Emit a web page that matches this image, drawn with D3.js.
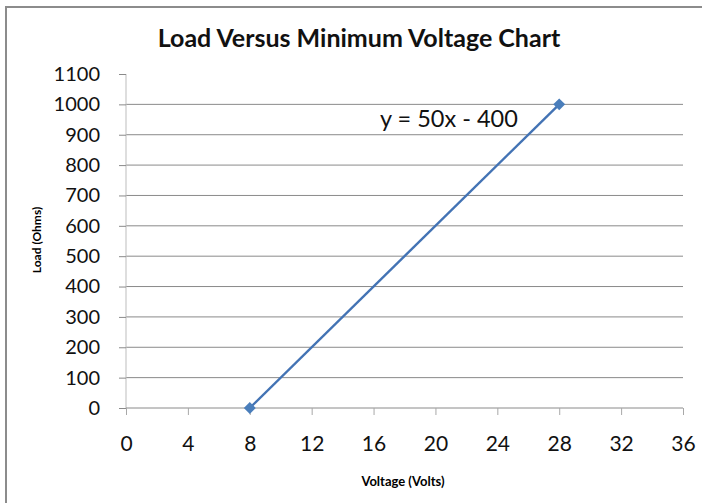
<!DOCTYPE html>
<html>
<head>
<meta charset="utf-8">
<script src="https://cdn.jsdelivr.net/npm/d3@7"></script>
<style>
  body { margin: 0; background: #fff; }
  svg { display: block; font-family: Lato, sans-serif; }
</style>
</head>
<body>
<svg id="chart" width="702" height="503"></svg>
<script>
const voltage = [8, 28];
const load = [0, 1000];
const xTicks = [0, 4, 8, 12, 16, 20, 24, 28, 32, 36];
const yTicks = [0, 100, 200, 300, 400, 500, 600, 700, 800, 900, 1000, 1100];
const trendLabel = "y = 50x - 400";

const svg = d3.select("#chart");
const x = d3.scaleLinear().domain([0, 36]).range([126, 683]);
const y = d3.scaleLinear().domain([0, 1100]).range([408, 74]);

// outer border (only left and top show)
svg.append("path")
  .attr("d", "M6,503 V7 H702")
  .attr("fill", "none")
  .attr("stroke", "#8c8c8c")
  .attr("stroke-width", 2);

// title
svg.append("text")
  .attr("x", 359).attr("y", 47)
  .attr("text-anchor", "middle")
  .attr("font-size", 25).attr("font-weight", "bold")
  .attr("fill", "#111")
  .text("Load Versus Minimum Voltage Chart");

// gridlines
svg.append("g")
  .selectAll("line")
  .data(yTicks.filter((d) => d > 0 && d < 1100))
  .join("line")
  .attr("x1", x(0)).attr("x2", x(36))
  .attr("y1", (d) => y(d)).attr("y2", (d) => y(d))
  .attr("stroke", "#8a8a8a").attr("stroke-width", 1);

// y axis
const yAxis = svg.append("g")
  .attr("transform", `translate(${x(0)},0)`)
  .call(d3.axisLeft(y).tickValues(yTicks).tickFormat(d3.format("d")).tickSize(7).tickPadding(19));
yAxis.select(".domain").attr("stroke", "#bdbdbd").attr("d", `M0,${y(1100)}V${y(0)}`);
yAxis.selectAll(".tick line").attr("stroke", "#8a8a8a");
yAxis.selectAll(".tick text")
  .attr("font-size", 20).attr("fill", "#111").attr("font-family", "Lato, sans-serif");

// x axis
const xAxis = svg.append("g")
  .attr("transform", `translate(0,${y(0)})`)
  .call(d3.axisBottom(x).tickValues(xTicks).tickSize(7).tickPadding(21));
xAxis.select(".domain").attr("stroke", "#8a8a8a").attr("d", `M${x(0)},0H${x(36)}`);
xAxis.selectAll(".tick line").attr("stroke", "#a8a8a8");
xAxis.selectAll(".tick text")
  .attr("font-size", 21).attr("fill", "#111").attr("font-family", "Lato, sans-serif");

// axis titles
svg.append("text")
  .attr("transform", "translate(41,240) rotate(-90)")
  .attr("text-anchor", "middle")
  .attr("font-size", 12).attr("font-weight", "bold")
  .text("Load (Ohms)");
svg.append("text")
  .attr("x", 403).attr("y", 486)
  .attr("text-anchor", "middle")
  .attr("font-size", 13).attr("font-weight", "bold")
  .text("Voltage (Volts)");

// series
const pts = voltage.map((v, i) => [v, load[i]]);
svg.append("path")
  .datum(pts)
  .attr("fill", "none")
  .attr("stroke", "#4373b4")
  .attr("stroke-width", 2.4)
  .attr("d", d3.line().x((d) => x(d[0])).y((d) => y(d[1])));

svg.append("g")
  .selectAll("path")
  .data(pts)
  .join("path")
  .attr("transform", (d) => `translate(${x(d[0])},${y(d[1])})`)
  .attr("d", d3.symbol(d3.symbolDiamond2, 90))
  .attr("fill", "#4a7ebb");

// trendline equation
svg.append("text")
  .attr("x", 380).attr("y", 127)
  .attr("font-size", 23.5).attr("fill", "#111")
  .text(trendLabel);
</script>
</body>
</html>
